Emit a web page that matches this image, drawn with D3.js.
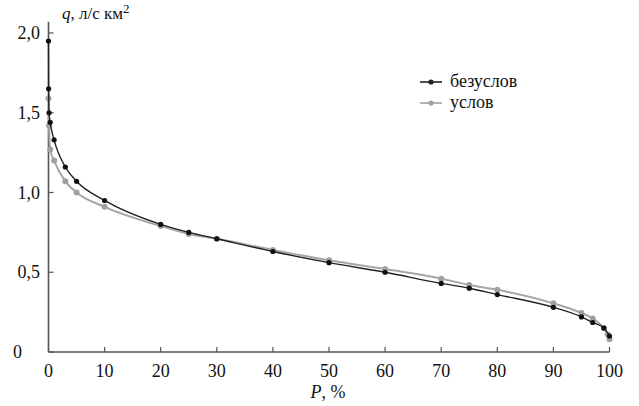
<!DOCTYPE html>
<html>
<head>
<meta charset="utf-8">
<script src="https://cdn.jsdelivr.net/npm/d3@7"></script>
<style>
  body { margin: 0; background: #fff; }
</style>
</head>
<body>
<div id="svg-area"></div>
<script>
var svgWidth = 639;
var svgHeight = 406;

// data
var pBezusl = [0, 0.02, 0.1, 0.3, 1, 3, 5, 10, 20, 25, 30, 40, 50, 60, 70, 75, 80, 90, 95, 97, 99, 100];
var qBezusl = [1.95, 1.65, 1.50, 1.44, 1.33, 1.16, 1.07, 0.95, 0.80, 0.75, 0.71, 0.63, 0.56, 0.50, 0.43, 0.40, 0.36, 0.28, 0.22, 0.185, 0.15, 0.10];
var pUsl = [0, 0.1, 0.3, 1, 3, 5, 10, 20, 25, 30, 40, 50, 60, 70, 75, 80, 90, 95, 97, 99, 99.7, 100];
var qUsl = [1.59, 1.42, 1.27, 1.20, 1.07, 1.00, 0.91, 0.79, 0.74, 0.71, 0.64, 0.575, 0.52, 0.46, 0.42, 0.39, 0.305, 0.245, 0.21, 0.15, 0.11, 0.08];
var xTicks = [0, 10, 20, 30, 40, 50, 60, 70, 80, 90, 100];
var yTicks = [0, 0.5, 1.0, 1.5, 2.0];
var seriesNames = ["безуслов", "услов"];

var svg = d3.select("#svg-area")
  .append("svg")
  .attr("width", svgWidth)
  .attr("height", svgHeight)
  .style("font-family", "'Liberation Serif', 'Times New Roman', 'DejaVu Serif', serif");

var xScale = d3.scaleLinear().domain([0, 100]).range([48.5, 609.5]);
var yScale = d3.scaleLinear().domain([0, 2.0]).range([352, 33]);

var axisColor = "#555";

// axes lines
svg.append("line")
  .attr("x1", xScale(0)).attr("x2", xScale(0))
  .attr("y1", yScale(0)).attr("y2", yScale(2.07))
  .attr("stroke", axisColor).attr("stroke-width", 1.6);
svg.append("line")
  .attr("x1", xScale(0)).attr("x2", xScale(100))
  .attr("y1", yScale(0)).attr("y2", yScale(0))
  .attr("stroke", axisColor).attr("stroke-width", 1.6);

// ticks, pointing inward
svg.selectAll(".xt").data(xTicks).enter().append("line")
  .attr("x1", d => xScale(d)).attr("x2", d => xScale(d))
  .attr("y1", yScale(0)).attr("y2", yScale(0) - 5)
  .attr("stroke", axisColor).attr("stroke-width", 1.2);
svg.selectAll(".yt").data(yTicks).enter().append("line")
  .attr("x1", xScale(0)).attr("x2", xScale(0) + 5)
  .attr("y1", d => yScale(d)).attr("y2", d => yScale(d))
  .attr("stroke", axisColor).attr("stroke-width", 1.2);

// tick labels
svg.selectAll(".xl").data(xTicks).enter().append("text")
  .attr("x", d => xScale(d)).attr("y", yScale(0) + 25)
  .attr("text-anchor", "middle").attr("font-size", 18).attr("fill", "#111")
  .text(d => d);
svg.selectAll(".yl").data(yTicks).enter().append("text")
  .attr("x", d => d === 0 ? 22 : 40).attr("y", d => yScale(d) + 6)
  .attr("text-anchor", "end").attr("font-size", 18).attr("fill", "#111")
  .text(d => d === 0 ? "0" : d3.format(".1f")(d).replace(".", ","));

// axis titles
var yTitle = svg.append("text").attr("x", 62).attr("y", 19)
  .attr("font-size", 17).attr("fill", "#111");
yTitle.append("tspan").attr("font-style", "italic").text("q");
yTitle.append("tspan").text(", л/с км");
yTitle.append("tspan").attr("dy", -6).attr("font-size", 13).text("2");

var xTitle = svg.append("text").attr("x", 328).attr("y", 398)
  .attr("text-anchor", "middle").attr("font-size", 18).attr("fill", "#111");
xTitle.append("tspan").attr("font-style", "italic").text("P");
xTitle.append("tspan").text(", %");

var lineGenerator = d3.line()
  .x(d => xScale(d[0]))
  .y(d => yScale(d[1]))
  .curve(d3.curveMonotoneX);

var usl = d3.zip(pUsl, qUsl);
var bez = d3.zip(pBezusl, qBezusl);

// gray series (условный)
svg.append("path")
  .attr("fill", "none").attr("stroke", "#a6a6a6").attr("stroke-width", 2)
  .attr("d", lineGenerator(usl));
svg.selectAll(".pu").data(usl).enter().append("circle")
  .attr("cx", d => xScale(d[0])).attr("cy", d => yScale(d[1]))
  .attr("r", 3).attr("fill", "#a0a0a0");

// black series (безусловный)
svg.append("path")
  .attr("fill", "none").attr("stroke", "#222").attr("stroke-width", 1.4)
  .attr("d", lineGenerator(bez));
svg.selectAll(".pb").data(bez).enter().append("circle")
  .attr("cx", d => xScale(d[0])).attr("cy", d => yScale(d[1]))
  .attr("r", 2.6).attr("fill", "#111");

// legend
var legendColors = ["#222", "#a0a0a0"];
var legend = svg.selectAll(".lg").data(seriesNames).enter().append("g")
  .attr("transform", (d, i) => "translate(420," + (82 + i * 21) + ")");
legend.append("line")
  .attr("x1", 0).attr("x2", 22).attr("y1", 0).attr("y2", 0)
  .attr("stroke", (d, i) => legendColors[i]).attr("stroke-width", 1.6);
legend.append("circle")
  .attr("cx", 11).attr("cy", 0).attr("r", 2.6)
  .attr("fill", (d, i) => legendColors[i]);
legend.append("text")
  .attr("x", 30).attr("y", 5).attr("font-size", 18).attr("fill", "#111")
  .text(d => d);
</script>
</body>
</html>
